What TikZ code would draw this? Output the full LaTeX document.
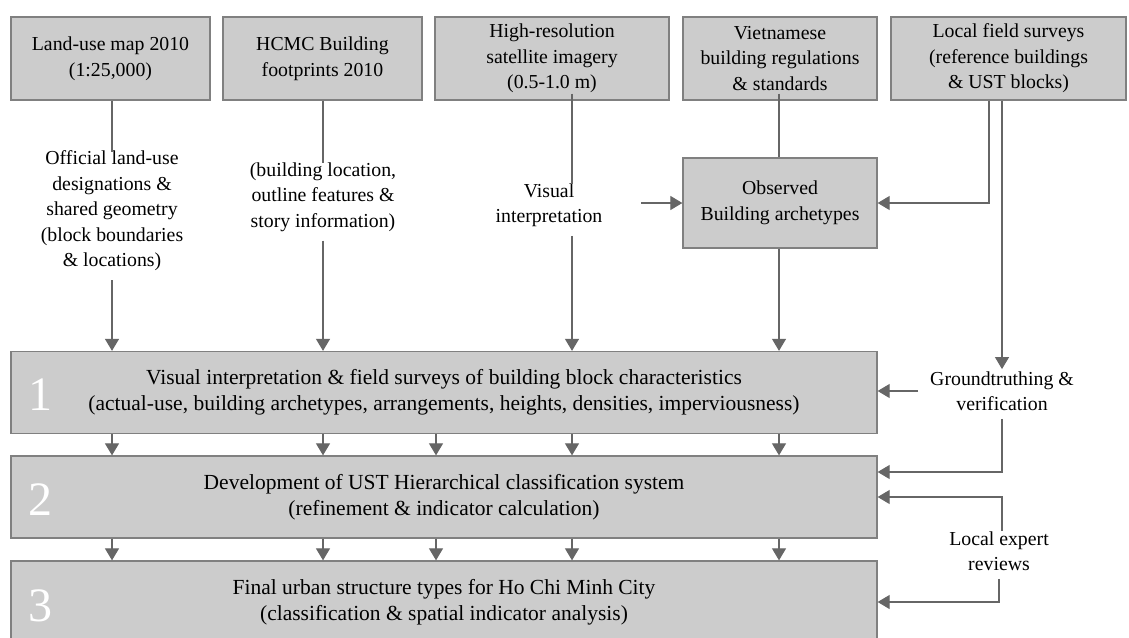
\documentclass[tikz,border=0pt]{standalone}
\usepackage{fontspec}
\setmainfont{Liberation Serif}
\usetikzlibrary{arrows.meta}
\definecolor{boxfill}{HTML}{CCCCCC}
\definecolor{boxline}{HTML}{808080}
\definecolor{conn}{HTML}{666666}
\begin{document}
\begin{tikzpicture}[x=1pt,y=-1pt,
  txt/.style={font=\fontsize{19.8}{25.5}\selectfont, align=center},
  bigtxt/.style={font=\fontsize{21.5}{26}\selectfont, align=center},
  srcbox/.style={txt, draw=boxline, fill=boxfill, line width=1.3pt, inner sep=0pt, minimum height=83pt},
  bigbox/.style={bigtxt, draw=boxline, fill=boxfill, line width=1.3pt, inner sep=0pt, minimum width=866pt, minimum height=82pt},
  lbl/.style={txt, inner sep=2pt},
  num/.style={font=\fontsize{48}{48}\selectfont, text=white, inner sep=0pt},
  ln/.style={draw=conn, line width=1.1pt},
  arr/.style={ln, -{Triangle[length=12pt,width=14pt]}, color=conn}
]
\clip (0,0) rectangle (1129,637);
\fill[white] (0,0) rectangle (1129,637);

% source boxes
\node[srcbox, minimum width=199pt] (t1) at (110.5,58.5) {Land-use map 2010\\(1:25,000)};
\node[srcbox, minimum width=199pt] (t2) at (322.5,58.5) {HCMC Building\\footprints 2010};
\node[srcbox, minimum width=234pt] (t3) at (552,58.5) {High-resolution\\satellite imagery\\(0.5-1.0 m)};
\node[srcbox, minimum width=194pt] (t4) at (780,58.5) {Vietnamese\\building regulations\\\& standards};
\node[srcbox, minimum width=235pt] (t5) at (1008.5,58.5) {Local field surveys\\(reference buildings\\\& UST blocks)};

\node[srcbox, minimum width=194pt, minimum height=90pt] (obs) at (780,203) {Observed\\Building archetypes};

% big boxes
\node[bigbox] (b1) at (444,392.5) {Visual interpretation \& field surveys of building block characteristics\\(actual-use, building archetypes, arrangements, heights, densities, imperviousness)};
\node[bigbox] (b2) at (444,497) {Development of UST Hierarchical classification system\\(refinement \& indicator calculation)};
\node[bigbox] (b3) at (444,602) {Final urban structure types for Ho Chi Minh City\\(classification \& spatial indicator analysis)};
\node[num] (n1) at (40,395) {1};
\node[num] (n2) at (40,500) {2};
\node[num] (n3) at (40,606) {3};

% labels
\node[lbl] (l1) at (112,211) {Official land-use\\designations \&\\shared geometry\\(block boundaries\\\& locations)};
\node[lbl] (l2) at (323,197) {(building location,\\outline features \&\\story information)};
\node[lbl] (l3) at (549,205) {Visual\\interpretation};
\node[lbl] (g) at (1002,391) {Groundtruthing \&\\verification};
\node[lbl] (e) at (999,551) {Local expert\\reviews};

\coordinate (c1) at (112,0);
\coordinate (c2) at (323,0);
\coordinate (c3) at (572,0);
\coordinate (c3b) at (436,0);
\coordinate (c4) at (779,0);
\coordinate (c5a) at (989,0);
\coordinate (c5b) at (1002,0);
\coordinate (va) at (641,0);
\coordinate (ga) at (918,0);

% connectors
\draw[ln] (t1.south -| c1) -- ([yshift=-3pt]l1.north -| c1);
\draw[arr] ([yshift=-7pt]l1.south -| c1) -- (b1.north -| c1);
\draw[ln] (t2.south -| c2) -- ([yshift=-3pt]l2.north -| c2);
\draw[arr] ([yshift=-7pt]l2.south -| c2) -- (b1.north -| c2);
\draw[ln] ([yshift=7pt]t3.south -| c3) -- ([yshift=-3pt]l3.north -| c3);
\draw[arr] ([yshift=-7pt]l3.south -| c3) -- (b1.north -| c3);
\draw[arr] (obs.west -| va) -- (obs.west);
\draw[ln] ([yshift=7pt]t4.south -| c4) -- (obs.north -| c4);
\draw[arr] (obs.south -| c4) -- (b1.north -| c4);
\draw[arr] (t5.south -| c5a) |- (obs.east);
\draw[arr] (t5.south -| c5b) -- (g.north -| c5b);
\draw[arr] (g.west -| ga) -- (g.west -| b1.east);
\draw[arr] ([yshift=-6pt]g.south -| c5b) |- ([yshift=25pt]b2.east);
\draw[arr] ([yshift=-2pt]e.north -| c5b) |- (b2.east);
\draw[arr] ([yshift=-6pt]e.south) |- (b3.east);

\foreach \c in {c1,c2,c3b,c3,c4} {
  \draw[arr] (b1.south -| \c) -- (b2.north -| \c);
  \draw[arr] (b2.south -| \c) -- (b3.north -| \c);
}
\end{tikzpicture}
\end{document}
